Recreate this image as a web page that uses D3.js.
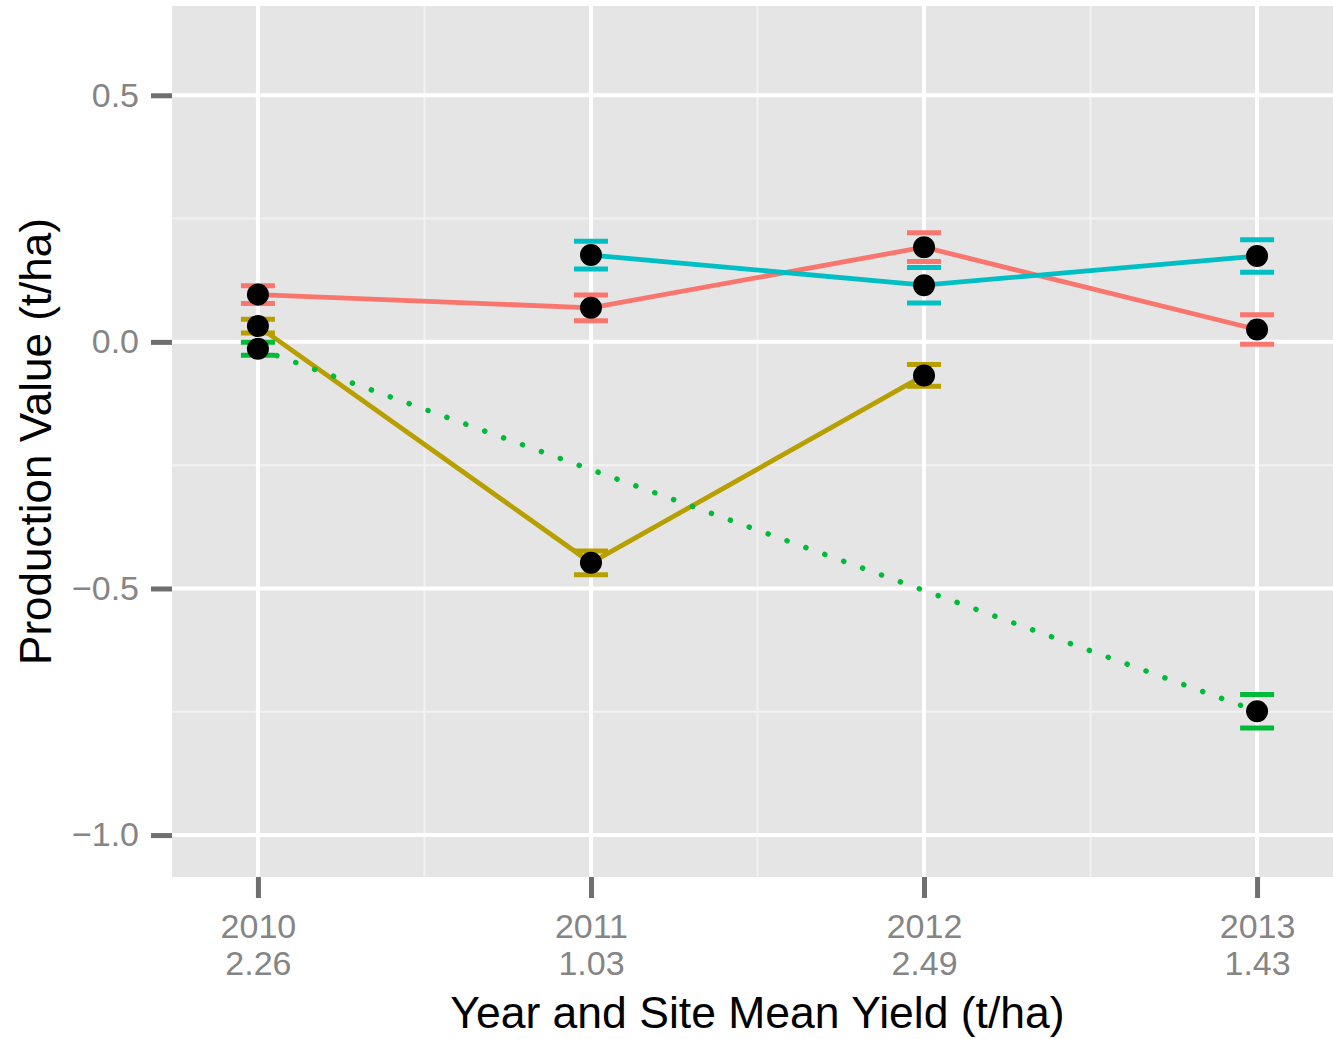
<!DOCTYPE html>
<html>
<head>
<meta charset="utf-8">
<script src="https://cdn.jsdelivr.net/npm/d3@7"></script>
<style>
  html, body { margin: 0; padding: 0; background: #fff; }
  svg { display: block; font-family: "Liberation Sans", Arial, sans-serif; }
</style>
</head>
<body>
<div id="chart"></div>
<script>
'use strict';

// years on the x axis with the site mean yield under each one
var years = ['2010', '2011', '2012', '2013'];
var siteMeans = ['2.26', '1.03', '2.49', '1.43'];
var yTicks = [0.5, 0.0, -0.5, -1.0];
var yMinor = [0.25, -0.25, -0.75];

// one entry per series: year, mean, half width of the error bar
var redPts = [
  {year: '2010', v: 0.096, e: 0.018},
  {year: '2011', v: 0.069, e: 0.026},
  {year: '2012', v: 0.192, e: 0.029},
  {year: '2013', v: 0.025, e: 0.030}
];
var olivePts = [
  {year: '2010', v: 0.032, e: 0.014},
  {year: '2011', v: -0.448, e: 0.024},
  {year: '2012', v: -0.068, e: 0.022}
];
var greenPts = [
  {year: '2010', v: -0.014, e: 0.013},
  {year: '2013', v: -0.749, e: 0.034}
];
var cyanPts = [
  {year: '2011', v: 0.176, e: 0.028},
  {year: '2012', v: 0.115, e: 0.036},
  {year: '2013', v: 0.174, e: 0.033}
];

var series = [
  {name: 'red', color: '#F8766D', dotted: false, pts: redPts},
  {name: 'olive', color: '#B79F00', dotted: false, pts: olivePts},
  {name: 'green', color: '#00BA38', dotted: true, pts: greenPts},
  {name: 'cyan', color: '#00BFC4', dotted: false, pts: cyanPts}
];

var width = 1333, height = 1039;
var panel = {left: 172, right: 1343, top: 6, bottom: 877};

var svg = d3.select('#chart').append('svg')
  .attr('width', width)
  .attr('height', height);

var x = d3.scalePoint()
  .domain(years)
  .range([panel.left, panel.right])
  .padding(0.258);

var y = d3.scaleLinear()
  .domain([-1.085, 0.681])
  .range([panel.bottom, panel.top]);

// panel background
svg.append('rect')
  .attr('x', panel.left)
  .attr('y', panel.top)
  .attr('width', panel.right - panel.left)
  .attr('height', panel.bottom - panel.top)
  .attr('fill', '#E5E5E5');

var grid = svg.append('g').attr('class', 'grid');

// minor grid lines, half way between the years and the y ticks
var xMinor = d3.pairs(years).map(function (p) {
  return (x(p[0]) + x(p[1])) / 2;
});
grid.selectAll('line.xminor').data(xMinor).enter().append('line')
  .attr('x1', function (d) { return d; })
  .attr('x2', function (d) { return d; })
  .attr('y1', panel.top).attr('y2', panel.bottom)
  .attr('stroke', '#F2F2F2').attr('stroke-width', 2);
grid.selectAll('line.yminor').data(yMinor).enter().append('line')
  .attr('x1', panel.left).attr('x2', panel.right)
  .attr('y1', function (d) { return y(d); })
  .attr('y2', function (d) { return y(d); })
  .attr('stroke', '#F2F2F2').attr('stroke-width', 2);

// major grid lines
grid.selectAll('line.xmajor').data(years).enter().append('line')
  .attr('x1', function (d) { return x(d); })
  .attr('x2', function (d) { return x(d); })
  .attr('y1', panel.top).attr('y2', panel.bottom)
  .attr('stroke', '#fff').attr('stroke-width', 4);
grid.selectAll('line.ymajor').data(yTicks).enter().append('line')
  .attr('x1', panel.left).attr('x2', panel.right)
  .attr('y1', function (d) { return y(d); })
  .attr('y2', function (d) { return y(d); })
  .attr('stroke', '#fff').attr('stroke-width', 4);

// y axis
var yAxis = svg.append('g')
  .attr('transform', 'translate(' + panel.left + ',0)')
  .call(d3.axisLeft(y)
    .tickValues(yTicks)
    .tickSize(21)
    .tickPadding(12)
    .tickFormat(function (d) { return d3.format('.1f')(d).replace('-', '\u2212'); }));
yAxis.select('.domain').remove();
yAxis.selectAll('.tick line').attr('stroke', '#6F6F6F').attr('stroke-width', 5);
yAxis.selectAll('.tick text')
  .attr('fill', '#858585')
  .style('font-size', '34px')
  .style('font-family', '"Liberation Sans", Arial, sans-serif');

// x axis, two label lines per tick
var xAxis = svg.append('g')
  .attr('transform', 'translate(0,' + panel.bottom + ')')
  .call(d3.axisBottom(x).tickSize(21).tickFormat(''));
xAxis.select('.domain').remove();
xAxis.selectAll('.tick line').attr('stroke', '#6F6F6F').attr('stroke-width', 5);
xAxis.selectAll('.tick').each(function (d, i) {
  var t = d3.select(this).append('text')
    .attr('fill', '#858585')
    .attr('text-anchor', 'middle')
    .style('font-size', '34px')
    .style('font-family', '"Liberation Sans", Arial, sans-serif');
  t.append('tspan').attr('x', 0).attr('y', 61).text(d);
  t.append('tspan').attr('x', 0).attr('y', 98).text(siteMeans[i]);
});

// titles
svg.append('text')
  .attr('x', (panel.left + panel.right) / 2)
  .attr('y', 1028)
  .attr('text-anchor', 'middle')
  .attr('fill', '#000')
  .style('font-size', '44.5px')
  .text('Year and Site Mean Yield (t/ha)');

svg.append('text')
  .attr('transform', 'translate(51,' + ((panel.top + panel.bottom) / 2) + ') rotate(-90)')
  .attr('text-anchor', 'middle')
  .attr('fill', '#000')
  .style('font-size', '44px')
  .text('Production Value (t/ha)');

// data layers
var line = d3.line()
  .x(function (d) { return x(d.year); })
  .y(function (d) { return y(d.v); });

var plot = svg.append('g').attr('class', 'series');

series.forEach(function (s) {
  var g = plot.append('g').attr('class', 's-' + s.name);

  // error bar caps
  [1, -1].forEach(function (sign) {
    g.selectAll('line.cap' + sign).data(s.pts).enter().append('line')
      .attr('x1', function (d) { return x(d.year) - 17; })
      .attr('x2', function (d) { return x(d.year) + 17; })
      .attr('y1', function (d) { return y(d.v + sign * d.e); })
      .attr('y2', function (d) { return y(d.v + sign * d.e); })
      .attr('stroke', s.color).attr('stroke-width', 5);
  });

  g.append('path')
    .datum(s.pts)
    .attr('d', line)
    .attr('fill', 'none')
    .attr('stroke', s.color)
    .attr('stroke-width', s.dotted ? 5.5 : 4.8)
    .attr('stroke-linecap', s.dotted ? 'round' : 'butt')
    .attr('stroke-dasharray', s.dotted ? '0.1 20' : null);
});

// black points on top of everything
var allPts = [];
series.forEach(function (s) { allPts = allPts.concat(s.pts); });
plot.selectAll('circle').data(allPts).enter().append('circle')
  .attr('cx', function (d) { return x(d.year); })
  .attr('cy', function (d) { return y(d.v); })
  .attr('r', 11)
  .attr('fill', '#000');
</script>
</body>
</html>
